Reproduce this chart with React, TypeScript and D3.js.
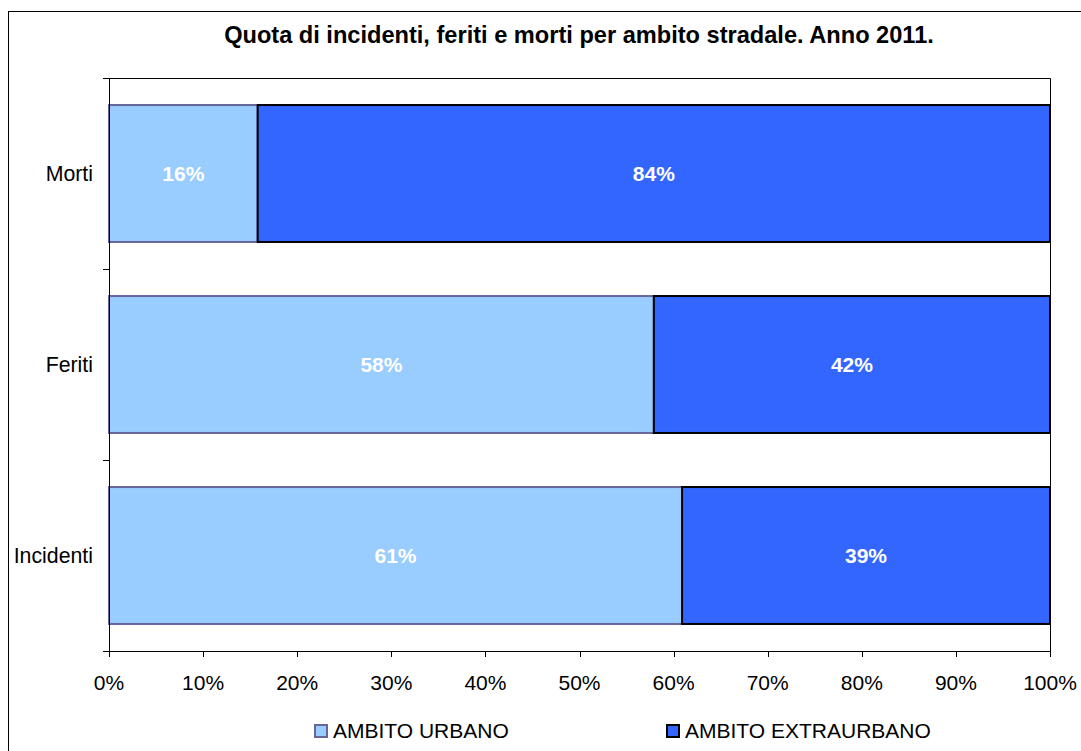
import React, { useEffect, useRef } from "react";
import * as d3 from "d3";

const categories = ["Morti", "Feriti", "Incidenti"];
const urbano = [15.8, 57.9, 60.9];
const extraurbano = [84.2, 42.1, 39.1];
const urbanoLabels = ["16%", "58%", "61%"];
const extraLabels = ["84%", "42%", "39%"];
const xTicks = [0, 10, 20, 30, 40, 50, 60, 70, 80, 90, 100];
const seriesNames = ["AMBITO URBANO", "AMBITO EXTRAURBANO"];

const W = 1081;
const H = 751;
const FONT = "'Liberation Sans', Arial, sans-serif";

const App = () => {
  const ref = useRef<SVGSVGElement>(null);

  useEffect(() => {
    if (!ref.current) return;
    const svg = d3.select(ref.current);
    svg.selectAll("*").remove();

    const left = 109, right = 1050, top = 78, bottom = 651;

    const x = d3.scaleLinear().domain([0, 100]).range([left, right]);
    const y = d3
      .scaleBand<string>()
      .domain(categories)
      .range([top, bottom])
      .paddingInner(0.283)
      .paddingOuter(0.1415);

    // outer frame
    svg
      .append("rect")
      .attr("x", 8.5)
      .attr("y", 11.5)
      .attr("width", W + 20)
      .attr("height", H + 20)
      .attr("fill", "white")
      .attr("stroke", "#000")
      .attr("stroke-width", 1);

    svg
      .append("text")
      .attr("x", 579)
      .attr("y", 43)
      .attr("text-anchor", "middle")
      .attr("font-family", FONT)
      .attr("font-weight", "bold")
      .attr("font-size", 23.6)
      .text("Quota di incidenti, feriti e morti per ambito stradale. Anno 2011.");

    // plot frame (top and right)
    svg
      .append("path")
      .attr("d", `M${left},${top + 0.5}H${right + 0.5}V${bottom}`)
      .attr("fill", "none")
      .attr("stroke", "#000")
      .attr("stroke-width", 1);

    const g = svg.append("g");
    categories.forEach((c, i) => {
      const y0 = y(c)!;
      const bh = y.bandwidth();
      g.append("rect")
        .attr("x", x(0))
        .attr("y", y0)
        .attr("width", x(urbano[i]) - x(0))
        .attr("height", bh)
        .attr("fill", "#99CCFF")
        .attr("stroke", "#666699")
        .attr("stroke-width", 2);
      g.append("rect")
        .attr("x", x(urbano[i]))
        .attr("y", y0)
        .attr("width", x(urbano[i] + extraurbano[i]) - x(urbano[i]))
        .attr("height", bh)
        .attr("fill", "#3366FF")
        .attr("stroke", "#000")
        .attr("stroke-width", 2);
      g.append("text")
        .attr("x", (x(0) + x(urbano[i])) / 2)
        .attr("y", y0 + bh / 2 + 7.5)
        .attr("text-anchor", "middle")
        .attr("fill", "white")
        .attr("font-family", FONT)
        .attr("font-weight", "bold")
        .attr("font-size", 21)
        .text(urbanoLabels[i]);
      g.append("text")
        .attr("x", (x(urbano[i]) + x(100)) / 2)
        .attr("y", y0 + bh / 2 + 7.5)
        .attr("text-anchor", "middle")
        .attr("fill", "white")
        .attr("font-family", FONT)
        .attr("font-weight", "bold")
        .attr("font-size", 21)
        .text(extraLabels[i]);
    });

    // y axis
    const yAxis = svg.append("g");
    yAxis
      .append("line")
      .attr("x1", left + 0.5)
      .attr("x2", left + 0.5)
      .attr("y1", top)
      .attr("y2", bottom)
      .attr("stroke", "#000");
    const step = (bottom - top) / categories.length;
    d3.range(categories.length + 1).forEach((k) => {
      const ty = Math.round(top + k * step) + 0.5;
      yAxis
        .append("line")
        .attr("x1", left - 6)
        .attr("x2", left)
        .attr("y1", ty)
        .attr("y2", ty)
        .attr("stroke", "#000");
    });
    categories.forEach((c) => {
      yAxis
        .append("text")
        .attr("x", 93)
        .attr("y", y(c)! + y.bandwidth() / 2 + 7.5)
        .attr("text-anchor", "end")
        .attr("font-family", FONT)
        .attr("font-size", 21.3)
        .text(c);
    });

    // x axis
    const xAxis = svg.append("g");
    xAxis
      .append("line")
      .attr("x1", left - 6)
      .attr("x2", right)
      .attr("y1", bottom + 0.5)
      .attr("y2", bottom + 0.5)
      .attr("stroke", "#000");
    xTicks.forEach((t) => {
      const tx = Math.round(x(t)) + 0.5;
      xAxis
        .append("line")
        .attr("x1", tx)
        .attr("x2", tx)
        .attr("y1", bottom)
        .attr("y2", bottom + 6)
        .attr("stroke", "#000");
      xAxis
        .append("text")
        .attr("x", x(t))
        .attr("y", 690)
        .attr("text-anchor", "middle")
        .attr("font-family", FONT)
        .attr("font-size", 21)
        .text(`${t}%`);
    });

    // legend
    const legendX = [315, 667];
    const fills = ["#99CCFF", "#3366FF"];
    const strokes = ["#666699", "#000"];
    seriesNames.forEach((s, i) => {
      svg
        .append("rect")
        .attr("x", legendX[i])
        .attr("y", 725)
        .attr("width", 12)
        .attr("height", 12)
        .attr("fill", fills[i])
        .attr("stroke", strokes[i])
        .attr("stroke-width", 2);
      svg
        .append("text")
        .attr("x", legendX[i] + 18)
        .attr("y", 738)
        .attr("font-family", FONT)
        .attr("font-size", 21)
        .text(s);
    });
  }, []);

  return (
    <svg
      ref={ref}
      width={W}
      height={H}
      style={{ position: "absolute", left: 0, top: 0, background: "white" }}
    />
  );
};

export default App;
